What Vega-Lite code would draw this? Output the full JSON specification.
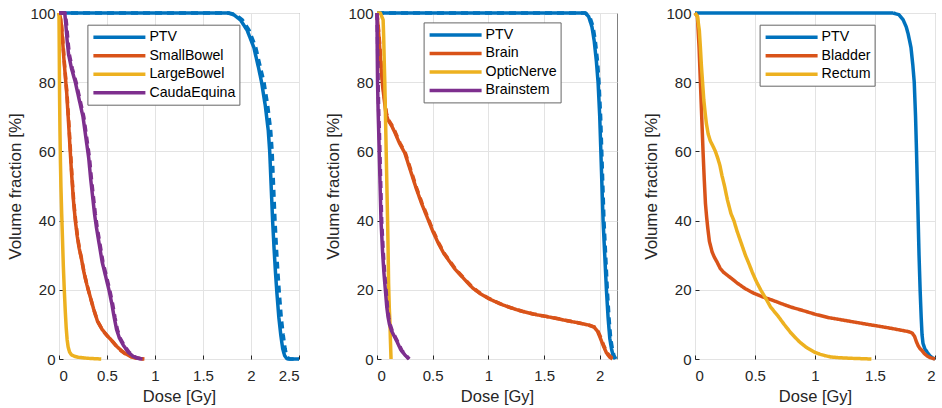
{
"$schema":"https://vega.github.io/schema/vega-lite/v6.json",
"background":"white",
"padding":{"left":6,"top":5,"right":0,"bottom":0},
"spacing":78,
"bounds":"flush",
"data":{"values":[
{"p":"A","s":"PTV","m":"a","d":0,"v":100},{"p":"A","s":"PTV","m":"a","d":1.76,"v":100},{"p":"A","s":"PTV","m":"a","d":1.82,"v":99.5},{"p":"A","s":"PTV","m":"a","d":1.89,"v":98},{"p":"A","s":"PTV","m":"a","d":1.96,"v":95},{"p":"A","s":"PTV","m":"a","d":2.03,"v":90},{"p":"A","s":"PTV","m":"a","d":2.08,"v":84},{"p":"A","s":"PTV","m":"a","d":2.11,"v":80},{"p":"A","s":"PTV","m":"a","d":2.15,"v":73},{"p":"A","s":"PTV","m":"a","d":2.18,"v":66},{"p":"A","s":"PTV","m":"a","d":2.195,"v":60},{"p":"A","s":"PTV","m":"a","d":2.21,"v":50},{"p":"A","s":"PTV","m":"a","d":2.225,"v":40},{"p":"A","s":"PTV","m":"a","d":2.24,"v":32},{"p":"A","s":"PTV","m":"a","d":2.255,"v":25},{"p":"A","s":"PTV","m":"a","d":2.27,"v":19},{"p":"A","s":"PTV","m":"a","d":2.29,"v":12},{"p":"A","s":"PTV","m":"a","d":2.31,"v":7},{"p":"A","s":"PTV","m":"a","d":2.33,"v":3},{"p":"A","s":"PTV","m":"a","d":2.35,"v":1},{"p":"A","s":"PTV","m":"a","d":2.37,"v":0.2},{"p":"A","s":"PTV","m":"a","d":2.385,"v":0},{"p":"A","s":"PTV","m":"a","d":2.5,"v":0},
{"p":"A","s":"PTV","m":"b","d":0,"v":100},{"p":"A","s":"PTV","m":"b","d":1.77,"v":100},{"p":"A","s":"PTV","m":"b","d":1.84,"v":99.5},{"p":"A","s":"PTV","m":"b","d":1.91,"v":98},{"p":"A","s":"PTV","m":"b","d":1.98,"v":95},{"p":"A","s":"PTV","m":"b","d":2.05,"v":90},{"p":"A","s":"PTV","m":"b","d":2.1,"v":84},{"p":"A","s":"PTV","m":"b","d":2.135,"v":80},{"p":"A","s":"PTV","m":"b","d":2.175,"v":73},{"p":"A","s":"PTV","m":"b","d":2.205,"v":66},{"p":"A","s":"PTV","m":"b","d":2.22,"v":60},{"p":"A","s":"PTV","m":"b","d":2.235,"v":50},{"p":"A","s":"PTV","m":"b","d":2.25,"v":40},{"p":"A","s":"PTV","m":"b","d":2.265,"v":32},{"p":"A","s":"PTV","m":"b","d":2.28,"v":25},{"p":"A","s":"PTV","m":"b","d":2.295,"v":19},{"p":"A","s":"PTV","m":"b","d":2.315,"v":12},{"p":"A","s":"PTV","m":"b","d":2.335,"v":7},{"p":"A","s":"PTV","m":"b","d":2.355,"v":3},{"p":"A","s":"PTV","m":"b","d":2.37,"v":1},{"p":"A","s":"PTV","m":"b","d":2.39,"v":0.2},{"p":"A","s":"PTV","m":"b","d":2.41,"v":0},{"p":"A","s":"PTV","m":"b","d":2.5,"v":0},
{"p":"A","s":"SmallBowel","m":"a","d":0,"v":100},{"p":"A","s":"SmallBowel","m":"a","d":0.02,"v":98},{"p":"A","s":"SmallBowel","m":"a","d":0.035,"v":93},{"p":"A","s":"SmallBowel","m":"a","d":0.05,"v":87},{"p":"A","s":"SmallBowel","m":"a","d":0.065,"v":82},{"p":"A","s":"SmallBowel","m":"a","d":0.08,"v":77},{"p":"A","s":"SmallBowel","m":"a","d":0.1,"v":68},{"p":"A","s":"SmallBowel","m":"a","d":0.115,"v":61},{"p":"A","s":"SmallBowel","m":"a","d":0.13,"v":54},{"p":"A","s":"SmallBowel","m":"a","d":0.15,"v":46},{"p":"A","s":"SmallBowel","m":"a","d":0.17,"v":40},{"p":"A","s":"SmallBowel","m":"a","d":0.19,"v":35.5},{"p":"A","s":"SmallBowel","m":"a","d":0.21,"v":32},{"p":"A","s":"SmallBowel","m":"a","d":0.23,"v":29.5},{"p":"A","s":"SmallBowel","m":"a","d":0.26,"v":25},{"p":"A","s":"SmallBowel","m":"a","d":0.29,"v":21.5},{"p":"A","s":"SmallBowel","m":"a","d":0.32,"v":18.5},{"p":"A","s":"SmallBowel","m":"a","d":0.36,"v":14.5},{"p":"A","s":"SmallBowel","m":"a","d":0.4,"v":11},{"p":"A","s":"SmallBowel","m":"a","d":0.45,"v":8.5},{"p":"A","s":"SmallBowel","m":"a","d":0.5,"v":6.8},{"p":"A","s":"SmallBowel","m":"a","d":0.56,"v":5},{"p":"A","s":"SmallBowel","m":"a","d":0.6,"v":3.7},{"p":"A","s":"SmallBowel","m":"a","d":0.65,"v":2.4},{"p":"A","s":"SmallBowel","m":"a","d":0.7,"v":1.4},{"p":"A","s":"SmallBowel","m":"a","d":0.75,"v":0.7},{"p":"A","s":"SmallBowel","m":"a","d":0.8,"v":0.3},{"p":"A","s":"SmallBowel","m":"a","d":0.88,"v":0},
{"p":"A","s":"SmallBowel","m":"b","d":0,"v":100},{"p":"A","s":"SmallBowel","m":"b","d":0.025,"v":97},{"p":"A","s":"SmallBowel","m":"b","d":0.04,"v":92},{"p":"A","s":"SmallBowel","m":"b","d":0.055,"v":86},{"p":"A","s":"SmallBowel","m":"b","d":0.07,"v":81},{"p":"A","s":"SmallBowel","m":"b","d":0.085,"v":76},{"p":"A","s":"SmallBowel","m":"b","d":0.105,"v":67},{"p":"A","s":"SmallBowel","m":"b","d":0.12,"v":60},{"p":"A","s":"SmallBowel","m":"b","d":0.135,"v":53},{"p":"A","s":"SmallBowel","m":"b","d":0.155,"v":45},{"p":"A","s":"SmallBowel","m":"b","d":0.175,"v":39.5},{"p":"A","s":"SmallBowel","m":"b","d":0.195,"v":35},{"p":"A","s":"SmallBowel","m":"b","d":0.215,"v":31.5},{"p":"A","s":"SmallBowel","m":"b","d":0.235,"v":29},{"p":"A","s":"SmallBowel","m":"b","d":0.265,"v":24.5},{"p":"A","s":"SmallBowel","m":"b","d":0.295,"v":21},{"p":"A","s":"SmallBowel","m":"b","d":0.325,"v":18},{"p":"A","s":"SmallBowel","m":"b","d":0.365,"v":14},{"p":"A","s":"SmallBowel","m":"b","d":0.405,"v":10.7},{"p":"A","s":"SmallBowel","m":"b","d":0.455,"v":8.3},{"p":"A","s":"SmallBowel","m":"b","d":0.505,"v":6.6},{"p":"A","s":"SmallBowel","m":"b","d":0.565,"v":4.8},{"p":"A","s":"SmallBowel","m":"b","d":0.605,"v":3.5},{"p":"A","s":"SmallBowel","m":"b","d":0.655,"v":2.2},{"p":"A","s":"SmallBowel","m":"b","d":0.705,"v":1.2},{"p":"A","s":"SmallBowel","m":"b","d":0.755,"v":0.6},{"p":"A","s":"SmallBowel","m":"b","d":0.81,"v":0.2},{"p":"A","s":"SmallBowel","m":"b","d":0.89,"v":0},
{"p":"A","s":"LargeBowel","m":"a","d":0,"v":100},{"p":"A","s":"LargeBowel","m":"a","d":0.003,"v":88},{"p":"A","s":"LargeBowel","m":"a","d":0.006,"v":76},{"p":"A","s":"LargeBowel","m":"a","d":0.01,"v":66},{"p":"A","s":"LargeBowel","m":"a","d":0.015,"v":57},{"p":"A","s":"LargeBowel","m":"a","d":0.02,"v":50},{"p":"A","s":"LargeBowel","m":"a","d":0.028,"v":42},{"p":"A","s":"LargeBowel","m":"a","d":0.036,"v":35},{"p":"A","s":"LargeBowel","m":"a","d":0.045,"v":27},{"p":"A","s":"LargeBowel","m":"a","d":0.055,"v":20},{"p":"A","s":"LargeBowel","m":"a","d":0.065,"v":14},{"p":"A","s":"LargeBowel","m":"a","d":0.075,"v":9},{"p":"A","s":"LargeBowel","m":"a","d":0.085,"v":5.5},{"p":"A","s":"LargeBowel","m":"a","d":0.095,"v":3.5},{"p":"A","s":"LargeBowel","m":"a","d":0.11,"v":2},{"p":"A","s":"LargeBowel","m":"a","d":0.13,"v":1.2},{"p":"A","s":"LargeBowel","m":"a","d":0.16,"v":0.8},{"p":"A","s":"LargeBowel","m":"a","d":0.2,"v":0.5},{"p":"A","s":"LargeBowel","m":"a","d":0.3,"v":0.2},{"p":"A","s":"LargeBowel","m":"a","d":0.44,"v":0},
{"p":"A","s":"CaudaEquina","m":"a","d":0,"v":100},{"p":"A","s":"CaudaEquina","m":"a","d":0.06,"v":100},{"p":"A","s":"CaudaEquina","m":"a","d":0.07,"v":97},{"p":"A","s":"CaudaEquina","m":"a","d":0.085,"v":92},{"p":"A","s":"CaudaEquina","m":"a","d":0.1,"v":88},{"p":"A","s":"CaudaEquina","m":"a","d":0.13,"v":84},{"p":"A","s":"CaudaEquina","m":"a","d":0.17,"v":80},{"p":"A","s":"CaudaEquina","m":"a","d":0.21,"v":75},{"p":"A","s":"CaudaEquina","m":"a","d":0.25,"v":70},{"p":"A","s":"CaudaEquina","m":"a","d":0.28,"v":64},{"p":"A","s":"CaudaEquina","m":"a","d":0.31,"v":58},{"p":"A","s":"CaudaEquina","m":"a","d":0.33,"v":52},{"p":"A","s":"CaudaEquina","m":"a","d":0.35,"v":47},{"p":"A","s":"CaudaEquina","m":"a","d":0.37,"v":42},{"p":"A","s":"CaudaEquina","m":"a","d":0.39,"v":38},{"p":"A","s":"CaudaEquina","m":"a","d":0.42,"v":33},{"p":"A","s":"CaudaEquina","m":"a","d":0.45,"v":28},{"p":"A","s":"CaudaEquina","m":"a","d":0.485,"v":24},{"p":"A","s":"CaudaEquina","m":"a","d":0.52,"v":20},{"p":"A","s":"CaudaEquina","m":"a","d":0.55,"v":16},{"p":"A","s":"CaudaEquina","m":"a","d":0.575,"v":12},{"p":"A","s":"CaudaEquina","m":"a","d":0.6,"v":8.5},{"p":"A","s":"CaudaEquina","m":"a","d":0.63,"v":6},{"p":"A","s":"CaudaEquina","m":"a","d":0.67,"v":4},{"p":"A","s":"CaudaEquina","m":"a","d":0.72,"v":2},{"p":"A","s":"CaudaEquina","m":"a","d":0.77,"v":0.8},{"p":"A","s":"CaudaEquina","m":"a","d":0.82,"v":0.2},{"p":"A","s":"CaudaEquina","m":"a","d":0.87,"v":0},
{"p":"A","s":"CaudaEquina","m":"b","d":0,"v":100},{"p":"A","s":"CaudaEquina","m":"b","d":0.065,"v":100},{"p":"A","s":"CaudaEquina","m":"b","d":0.078,"v":97},{"p":"A","s":"CaudaEquina","m":"b","d":0.093,"v":92},{"p":"A","s":"CaudaEquina","m":"b","d":0.108,"v":88},{"p":"A","s":"CaudaEquina","m":"b","d":0.138,"v":84},{"p":"A","s":"CaudaEquina","m":"b","d":0.178,"v":80},{"p":"A","s":"CaudaEquina","m":"b","d":0.218,"v":75},{"p":"A","s":"CaudaEquina","m":"b","d":0.258,"v":70},{"p":"A","s":"CaudaEquina","m":"b","d":0.288,"v":64},{"p":"A","s":"CaudaEquina","m":"b","d":0.318,"v":58},{"p":"A","s":"CaudaEquina","m":"b","d":0.338,"v":52},{"p":"A","s":"CaudaEquina","m":"b","d":0.358,"v":47},{"p":"A","s":"CaudaEquina","m":"b","d":0.378,"v":42},{"p":"A","s":"CaudaEquina","m":"b","d":0.398,"v":38},{"p":"A","s":"CaudaEquina","m":"b","d":0.428,"v":33},{"p":"A","s":"CaudaEquina","m":"b","d":0.458,"v":28},{"p":"A","s":"CaudaEquina","m":"b","d":0.493,"v":24},{"p":"A","s":"CaudaEquina","m":"b","d":0.528,"v":20},{"p":"A","s":"CaudaEquina","m":"b","d":0.558,"v":16},{"p":"A","s":"CaudaEquina","m":"b","d":0.583,"v":12},{"p":"A","s":"CaudaEquina","m":"b","d":0.608,"v":8.5},{"p":"A","s":"CaudaEquina","m":"b","d":0.638,"v":6},{"p":"A","s":"CaudaEquina","m":"b","d":0.678,"v":4},{"p":"A","s":"CaudaEquina","m":"b","d":0.728,"v":2},{"p":"A","s":"CaudaEquina","m":"b","d":0.778,"v":0.8},{"p":"A","s":"CaudaEquina","m":"b","d":0.828,"v":0.2},{"p":"A","s":"CaudaEquina","m":"b","d":0.875,"v":0},
{"p":"B","s":"PTV","m":"a","d":0,"v":100},{"p":"B","s":"PTV","m":"a","d":1.87,"v":100},{"p":"B","s":"PTV","m":"a","d":1.9,"v":99},{"p":"B","s":"PTV","m":"a","d":1.93,"v":96},{"p":"B","s":"PTV","m":"a","d":1.95,"v":92},{"p":"B","s":"PTV","m":"a","d":1.97,"v":86},{"p":"B","s":"PTV","m":"a","d":1.985,"v":80},{"p":"B","s":"PTV","m":"a","d":2.0,"v":70},{"p":"B","s":"PTV","m":"a","d":2.01,"v":60},{"p":"B","s":"PTV","m":"a","d":2.02,"v":50},{"p":"B","s":"PTV","m":"a","d":2.03,"v":40},{"p":"B","s":"PTV","m":"a","d":2.045,"v":30},{"p":"B","s":"PTV","m":"a","d":2.06,"v":20},{"p":"B","s":"PTV","m":"a","d":2.075,"v":12},{"p":"B","s":"PTV","m":"a","d":2.09,"v":6},{"p":"B","s":"PTV","m":"a","d":2.105,"v":3},{"p":"B","s":"PTV","m":"a","d":2.12,"v":1},{"p":"B","s":"PTV","m":"a","d":2.135,"v":0},
{"p":"B","s":"PTV","m":"b","d":0,"v":100},{"p":"B","s":"PTV","m":"b","d":1.87,"v":100},{"p":"B","s":"PTV","m":"b","d":1.91,"v":99},{"p":"B","s":"PTV","m":"b","d":1.94,"v":96},{"p":"B","s":"PTV","m":"b","d":1.96,"v":92},{"p":"B","s":"PTV","m":"b","d":1.98,"v":86},{"p":"B","s":"PTV","m":"b","d":1.993,"v":80},{"p":"B","s":"PTV","m":"b","d":2.008,"v":70},{"p":"B","s":"PTV","m":"b","d":2.018,"v":60},{"p":"B","s":"PTV","m":"b","d":2.028,"v":50},{"p":"B","s":"PTV","m":"b","d":2.038,"v":40},{"p":"B","s":"PTV","m":"b","d":2.053,"v":30},{"p":"B","s":"PTV","m":"b","d":2.068,"v":20},{"p":"B","s":"PTV","m":"b","d":2.083,"v":12},{"p":"B","s":"PTV","m":"b","d":2.098,"v":6},{"p":"B","s":"PTV","m":"b","d":2.113,"v":3},{"p":"B","s":"PTV","m":"b","d":2.128,"v":1},{"p":"B","s":"PTV","m":"b","d":2.145,"v":0},
{"p":"B","s":"Brain","m":"a","d":0,"v":100},{"p":"B","s":"Brain","m":"a","d":0.01,"v":96},{"p":"B","s":"Brain","m":"a","d":0.02,"v":92},{"p":"B","s":"Brain","m":"a","d":0.03,"v":87},{"p":"B","s":"Brain","m":"a","d":0.04,"v":83},{"p":"B","s":"Brain","m":"a","d":0.05,"v":79},{"p":"B","s":"Brain","m":"a","d":0.065,"v":75},{"p":"B","s":"Brain","m":"a","d":0.08,"v":71},{"p":"B","s":"Brain","m":"a","d":0.1,"v":69},{"p":"B","s":"Brain","m":"a","d":0.13,"v":67.5},{"p":"B","s":"Brain","m":"a","d":0.16,"v":65.5},{"p":"B","s":"Brain","m":"a","d":0.2,"v":62.5},{"p":"B","s":"Brain","m":"a","d":0.25,"v":59.5},{"p":"B","s":"Brain","m":"a","d":0.3,"v":54.5},{"p":"B","s":"Brain","m":"a","d":0.35,"v":49.5},{"p":"B","s":"Brain","m":"a","d":0.4,"v":45},{"p":"B","s":"Brain","m":"a","d":0.45,"v":41},{"p":"B","s":"Brain","m":"a","d":0.5,"v":37},{"p":"B","s":"Brain","m":"a","d":0.55,"v":33.5},{"p":"B","s":"Brain","m":"a","d":0.6,"v":30.5},{"p":"B","s":"Brain","m":"a","d":0.7,"v":26},{"p":"B","s":"Brain","m":"a","d":0.8,"v":22.5},{"p":"B","s":"Brain","m":"a","d":0.86,"v":20.5},{"p":"B","s":"Brain","m":"a","d":0.93,"v":18.8},{"p":"B","s":"Brain","m":"a","d":1.0,"v":17.5},{"p":"B","s":"Brain","m":"a","d":1.1,"v":16},{"p":"B","s":"Brain","m":"a","d":1.2,"v":14.8},{"p":"B","s":"Brain","m":"a","d":1.3,"v":13.8},{"p":"B","s":"Brain","m":"a","d":1.4,"v":13},{"p":"B","s":"Brain","m":"a","d":1.5,"v":12.4},{"p":"B","s":"Brain","m":"a","d":1.6,"v":11.8},{"p":"B","s":"Brain","m":"a","d":1.7,"v":11.1},{"p":"B","s":"Brain","m":"a","d":1.8,"v":10.5},{"p":"B","s":"Brain","m":"a","d":1.9,"v":9.8},{"p":"B","s":"Brain","m":"a","d":1.95,"v":9.2},{"p":"B","s":"Brain","m":"a","d":1.98,"v":8},{"p":"B","s":"Brain","m":"a","d":2.0,"v":6.5},{"p":"B","s":"Brain","m":"a","d":2.03,"v":4},{"p":"B","s":"Brain","m":"a","d":2.06,"v":1.8},{"p":"B","s":"Brain","m":"a","d":2.09,"v":0.5},{"p":"B","s":"Brain","m":"a","d":2.115,"v":0},
{"p":"B","s":"Brain","m":"b","d":0,"v":100},{"p":"B","s":"Brain","m":"b","d":0.012,"v":96},{"p":"B","s":"Brain","m":"b","d":0.022,"v":92},{"p":"B","s":"Brain","m":"b","d":0.033,"v":87},{"p":"B","s":"Brain","m":"b","d":0.043,"v":83},{"p":"B","s":"Brain","m":"b","d":0.054,"v":79},{"p":"B","s":"Brain","m":"b","d":0.069,"v":75},{"p":"B","s":"Brain","m":"b","d":0.085,"v":71},{"p":"B","s":"Brain","m":"b","d":0.105,"v":69},{"p":"B","s":"Brain","m":"b","d":0.135,"v":67.5},{"p":"B","s":"Brain","m":"b","d":0.165,"v":65.5},{"p":"B","s":"Brain","m":"b","d":0.205,"v":62.5},{"p":"B","s":"Brain","m":"b","d":0.255,"v":59.5},{"p":"B","s":"Brain","m":"b","d":0.305,"v":54.5},{"p":"B","s":"Brain","m":"b","d":0.355,"v":49.5},{"p":"B","s":"Brain","m":"b","d":0.405,"v":45},{"p":"B","s":"Brain","m":"b","d":0.455,"v":41},{"p":"B","s":"Brain","m":"b","d":0.505,"v":37},{"p":"B","s":"Brain","m":"b","d":0.555,"v":33.5},{"p":"B","s":"Brain","m":"b","d":0.605,"v":30.5},{"p":"B","s":"Brain","m":"b","d":0.705,"v":26},{"p":"B","s":"Brain","m":"b","d":0.805,"v":22.5},{"p":"B","s":"Brain","m":"b","d":0.865,"v":20.5},{"p":"B","s":"Brain","m":"b","d":0.935,"v":18.8},{"p":"B","s":"Brain","m":"b","d":1.005,"v":17.5},{"p":"B","s":"Brain","m":"b","d":1.105,"v":16},{"p":"B","s":"Brain","m":"b","d":1.205,"v":14.8},{"p":"B","s":"Brain","m":"b","d":1.305,"v":13.8},{"p":"B","s":"Brain","m":"b","d":1.405,"v":13},{"p":"B","s":"Brain","m":"b","d":1.505,"v":12.4},{"p":"B","s":"Brain","m":"b","d":1.605,"v":11.8},{"p":"B","s":"Brain","m":"b","d":1.705,"v":11.1},{"p":"B","s":"Brain","m":"b","d":1.805,"v":10.5},{"p":"B","s":"Brain","m":"b","d":1.905,"v":9.8},{"p":"B","s":"Brain","m":"b","d":1.955,"v":9.2},{"p":"B","s":"Brain","m":"b","d":1.985,"v":8},{"p":"B","s":"Brain","m":"b","d":2.005,"v":6.5},{"p":"B","s":"Brain","m":"b","d":2.035,"v":4},{"p":"B","s":"Brain","m":"b","d":2.065,"v":1.8},{"p":"B","s":"Brain","m":"b","d":2.1,"v":0.5},{"p":"B","s":"Brain","m":"b","d":2.15,"v":0},
{"p":"B","s":"OpticNerve","m":"a","d":0,"v":100},{"p":"B","s":"OpticNerve","m":"a","d":0.03,"v":100},{"p":"B","s":"OpticNerve","m":"a","d":0.055,"v":98},{"p":"B","s":"OpticNerve","m":"a","d":0.06,"v":93},{"p":"B","s":"OpticNerve","m":"a","d":0.065,"v":86},{"p":"B","s":"OpticNerve","m":"a","d":0.07,"v":80},{"p":"B","s":"OpticNerve","m":"a","d":0.075,"v":72},{"p":"B","s":"OpticNerve","m":"a","d":0.08,"v":64},{"p":"B","s":"OpticNerve","m":"a","d":0.085,"v":56},{"p":"B","s":"OpticNerve","m":"a","d":0.09,"v":48},{"p":"B","s":"OpticNerve","m":"a","d":0.095,"v":40},{"p":"B","s":"OpticNerve","m":"a","d":0.1,"v":31},{"p":"B","s":"OpticNerve","m":"a","d":0.104,"v":22},{"p":"B","s":"OpticNerve","m":"a","d":0.11,"v":15},{"p":"B","s":"OpticNerve","m":"a","d":0.117,"v":10},{"p":"B","s":"OpticNerve","m":"a","d":0.12,"v":6},{"p":"B","s":"OpticNerve","m":"a","d":0.123,"v":3},{"p":"B","s":"OpticNerve","m":"a","d":0.126,"v":0},
{"p":"B","s":"Brainstem","m":"a","d":0,"v":100},{"p":"B","s":"Brainstem","m":"a","d":0.002,"v":90},{"p":"B","s":"Brainstem","m":"a","d":0.005,"v":80},{"p":"B","s":"Brainstem","m":"a","d":0.01,"v":72},{"p":"B","s":"Brainstem","m":"a","d":0.016,"v":65},{"p":"B","s":"Brainstem","m":"a","d":0.02,"v":60},{"p":"B","s":"Brainstem","m":"a","d":0.028,"v":50},{"p":"B","s":"Brainstem","m":"a","d":0.036,"v":40},{"p":"B","s":"Brainstem","m":"a","d":0.05,"v":31},{"p":"B","s":"Brainstem","m":"a","d":0.062,"v":25},{"p":"B","s":"Brainstem","m":"a","d":0.075,"v":20},{"p":"B","s":"Brainstem","m":"a","d":0.088,"v":15},{"p":"B","s":"Brainstem","m":"a","d":0.1,"v":12},{"p":"B","s":"Brainstem","m":"a","d":0.112,"v":10},{"p":"B","s":"Brainstem","m":"a","d":0.13,"v":8.2},{"p":"B","s":"Brainstem","m":"a","d":0.156,"v":6.5},{"p":"B","s":"Brainstem","m":"a","d":0.18,"v":5},{"p":"B","s":"Brainstem","m":"a","d":0.2,"v":3.6},{"p":"B","s":"Brainstem","m":"a","d":0.215,"v":2.6},{"p":"B","s":"Brainstem","m":"a","d":0.25,"v":1.2},{"p":"B","s":"Brainstem","m":"a","d":0.285,"v":0},
{"p":"B","s":"Brainstem","m":"b","d":0,"v":100},{"p":"B","s":"Brainstem","m":"b","d":0.006,"v":90},{"p":"B","s":"Brainstem","m":"b","d":0.01,"v":80},{"p":"B","s":"Brainstem","m":"b","d":0.015,"v":72},{"p":"B","s":"Brainstem","m":"b","d":0.022,"v":65},{"p":"B","s":"Brainstem","m":"b","d":0.026,"v":60},{"p":"B","s":"Brainstem","m":"b","d":0.034,"v":50},{"p":"B","s":"Brainstem","m":"b","d":0.042,"v":40},{"p":"B","s":"Brainstem","m":"b","d":0.056,"v":31},{"p":"B","s":"Brainstem","m":"b","d":0.068,"v":25},{"p":"B","s":"Brainstem","m":"b","d":0.081,"v":20},{"p":"B","s":"Brainstem","m":"b","d":0.094,"v":15},{"p":"B","s":"Brainstem","m":"b","d":0.106,"v":12},{"p":"B","s":"Brainstem","m":"b","d":0.118,"v":10},{"p":"B","s":"Brainstem","m":"b","d":0.136,"v":8.2},{"p":"B","s":"Brainstem","m":"b","d":0.162,"v":6.5},{"p":"B","s":"Brainstem","m":"b","d":0.186,"v":5},{"p":"B","s":"Brainstem","m":"b","d":0.206,"v":3.6},{"p":"B","s":"Brainstem","m":"b","d":0.221,"v":2.6},{"p":"B","s":"Brainstem","m":"b","d":0.256,"v":1.2},{"p":"B","s":"Brainstem","m":"b","d":0.29,"v":0},
{"p":"C","s":"PTV","m":"a","d":0,"v":100},{"p":"C","s":"PTV","m":"a","d":1.65,"v":100},{"p":"C","s":"PTV","m":"a","d":1.7,"v":99.5},{"p":"C","s":"PTV","m":"a","d":1.735,"v":98},{"p":"C","s":"PTV","m":"a","d":1.76,"v":96},{"p":"C","s":"PTV","m":"a","d":1.776,"v":94},{"p":"C","s":"PTV","m":"a","d":1.8,"v":90},{"p":"C","s":"PTV","m":"a","d":1.815,"v":85},{"p":"C","s":"PTV","m":"a","d":1.827,"v":80},{"p":"C","s":"PTV","m":"a","d":1.838,"v":70},{"p":"C","s":"PTV","m":"a","d":1.846,"v":60},{"p":"C","s":"PTV","m":"a","d":1.853,"v":50},{"p":"C","s":"PTV","m":"a","d":1.86,"v":40},{"p":"C","s":"PTV","m":"a","d":1.867,"v":30},{"p":"C","s":"PTV","m":"a","d":1.876,"v":20},{"p":"C","s":"PTV","m":"a","d":1.885,"v":12},{"p":"C","s":"PTV","m":"a","d":1.892,"v":7},{"p":"C","s":"PTV","m":"a","d":1.9,"v":4.5},{"p":"C","s":"PTV","m":"a","d":1.915,"v":3},{"p":"C","s":"PTV","m":"a","d":1.93,"v":2.2},{"p":"C","s":"PTV","m":"a","d":1.955,"v":1},{"p":"C","s":"PTV","m":"a","d":1.98,"v":0.3},{"p":"C","s":"PTV","m":"a","d":2.0,"v":0},
{"p":"C","s":"Bladder","m":"a","d":0,"v":100},{"p":"C","s":"Bladder","m":"a","d":0.02,"v":99},{"p":"C","s":"Bladder","m":"a","d":0.034,"v":90},{"p":"C","s":"Bladder","m":"a","d":0.045,"v":80},{"p":"C","s":"Bladder","m":"a","d":0.056,"v":70},{"p":"C","s":"Bladder","m":"a","d":0.067,"v":60},{"p":"C","s":"Bladder","m":"a","d":0.077,"v":52},{"p":"C","s":"Bladder","m":"a","d":0.087,"v":45},{"p":"C","s":"Bladder","m":"a","d":0.097,"v":41},{"p":"C","s":"Bladder","m":"a","d":0.106,"v":38},{"p":"C","s":"Bladder","m":"a","d":0.12,"v":34},{"p":"C","s":"Bladder","m":"a","d":0.142,"v":31},{"p":"C","s":"Bladder","m":"a","d":0.16,"v":29.5},{"p":"C","s":"Bladder","m":"a","d":0.184,"v":28},{"p":"C","s":"Bladder","m":"a","d":0.21,"v":26.2},{"p":"C","s":"Bladder","m":"a","d":0.24,"v":25},{"p":"C","s":"Bladder","m":"a","d":0.3,"v":23.4},{"p":"C","s":"Bladder","m":"a","d":0.35,"v":22},{"p":"C","s":"Bladder","m":"a","d":0.42,"v":20.3},{"p":"C","s":"Bladder","m":"a","d":0.49,"v":19},{"p":"C","s":"Bladder","m":"a","d":0.56,"v":18},{"p":"C","s":"Bladder","m":"a","d":0.645,"v":17},{"p":"C","s":"Bladder","m":"a","d":0.72,"v":16},{"p":"C","s":"Bladder","m":"a","d":0.8,"v":15},{"p":"C","s":"Bladder","m":"a","d":0.9,"v":14},{"p":"C","s":"Bladder","m":"a","d":0.994,"v":13},{"p":"C","s":"Bladder","m":"a","d":1.106,"v":12},{"p":"C","s":"Bladder","m":"a","d":1.274,"v":11},{"p":"C","s":"Bladder","m":"a","d":1.44,"v":10},{"p":"C","s":"Bladder","m":"a","d":1.58,"v":9.2},{"p":"C","s":"Bladder","m":"a","d":1.66,"v":8.7},{"p":"C","s":"Bladder","m":"a","d":1.72,"v":8.3},{"p":"C","s":"Bladder","m":"a","d":1.78,"v":7.9},{"p":"C","s":"Bladder","m":"a","d":1.81,"v":7.5},{"p":"C","s":"Bladder","m":"a","d":1.83,"v":6.5},{"p":"C","s":"Bladder","m":"a","d":1.845,"v":5},{"p":"C","s":"Bladder","m":"a","d":1.86,"v":3.8},{"p":"C","s":"Bladder","m":"a","d":1.875,"v":3},{"p":"C","s":"Bladder","m":"a","d":1.89,"v":2.5},{"p":"C","s":"Bladder","m":"a","d":1.91,"v":1.6},{"p":"C","s":"Bladder","m":"a","d":1.93,"v":1},{"p":"C","s":"Bladder","m":"a","d":1.96,"v":0.4},{"p":"C","s":"Bladder","m":"a","d":1.99,"v":0.1},{"p":"C","s":"Bladder","m":"a","d":2.0,"v":0},
{"p":"C","s":"Rectum","m":"a","d":0,"v":100},{"p":"C","s":"Rectum","m":"a","d":0.02,"v":99},{"p":"C","s":"Rectum","m":"a","d":0.036,"v":95},{"p":"C","s":"Rectum","m":"a","d":0.045,"v":90},{"p":"C","s":"Rectum","m":"a","d":0.053,"v":85},{"p":"C","s":"Rectum","m":"a","d":0.063,"v":80},{"p":"C","s":"Rectum","m":"a","d":0.073,"v":75},{"p":"C","s":"Rectum","m":"a","d":0.085,"v":71},{"p":"C","s":"Rectum","m":"a","d":0.095,"v":68},{"p":"C","s":"Rectum","m":"a","d":0.11,"v":65},{"p":"C","s":"Rectum","m":"a","d":0.128,"v":63},{"p":"C","s":"Rectum","m":"a","d":0.15,"v":61.5},{"p":"C","s":"Rectum","m":"a","d":0.17,"v":60},{"p":"C","s":"Rectum","m":"a","d":0.19,"v":58},{"p":"C","s":"Rectum","m":"a","d":0.207,"v":56},{"p":"C","s":"Rectum","m":"a","d":0.225,"v":53},{"p":"C","s":"Rectum","m":"a","d":0.246,"v":50},{"p":"C","s":"Rectum","m":"a","d":0.27,"v":46},{"p":"C","s":"Rectum","m":"a","d":0.3,"v":42},{"p":"C","s":"Rectum","m":"a","d":0.324,"v":40},{"p":"C","s":"Rectum","m":"a","d":0.35,"v":37},{"p":"C","s":"Rectum","m":"a","d":0.38,"v":34},{"p":"C","s":"Rectum","m":"a","d":0.42,"v":30},{"p":"C","s":"Rectum","m":"a","d":0.45,"v":27.5},{"p":"C","s":"Rectum","m":"a","d":0.478,"v":25},{"p":"C","s":"Rectum","m":"a","d":0.51,"v":22.5},{"p":"C","s":"Rectum","m":"a","d":0.547,"v":20},{"p":"C","s":"Rectum","m":"a","d":0.59,"v":17.5},{"p":"C","s":"Rectum","m":"a","d":0.63,"v":15},{"p":"C","s":"Rectum","m":"a","d":0.69,"v":12.5},{"p":"C","s":"Rectum","m":"a","d":0.743,"v":10},{"p":"C","s":"Rectum","m":"a","d":0.8,"v":7.5},{"p":"C","s":"Rectum","m":"a","d":0.869,"v":5},{"p":"C","s":"Rectum","m":"a","d":0.93,"v":3.3},{"p":"C","s":"Rectum","m":"a","d":0.994,"v":2},{"p":"C","s":"Rectum","m":"a","d":1.04,"v":1.4},{"p":"C","s":"Rectum","m":"a","d":1.08,"v":1},{"p":"C","s":"Rectum","m":"a","d":1.13,"v":0.6},{"p":"C","s":"Rectum","m":"a","d":1.19,"v":0.4},{"p":"C","s":"Rectum","m":"a","d":1.3,"v":0.2},{"p":"C","s":"Rectum","m":"a","d":1.47,"v":0}
]},
"hconcat":[
{"width":240,"height":346,
 "transform":[{"filter":"datum.p=='A'"}],
 "mark":{"type":"line","strokeWidth":3.5,"strokeJoin":"round"},
 "encoding":{
  "x":{"field":"d","type":"quantitative","scale":{"domain":[0,2.5],"nice":false},"axis":{"values":[0,0.5,1,1.5,2,2.5],"format":"~g","title":"Dose [Gy]"}},
  "y":{"field":"v","type":"quantitative","scale":{"domain":[0,100],"nice":false},"axis":{"values":[0,20,40,60,80,100],"title":"Volume fraction [%]"}},
  "color":{"field":"s","type":"nominal","scale":{"domain":["PTV","SmallBowel","LargeBowel","CaudaEquina"],"range":["#0072BD","#D95319","#EDB120","#7E2F8E"]},"legend":{"orient":"none","legendX":28.4,"legendY":11.7,"title":null}},
  "strokeDash":{"field":"m","type":"nominal","scale":{"domain":["a","b"],"range":[[1,0],[7,5]]},"legend":null},
  "order":[{"field":"d","type":"quantitative","sort":"ascending"},{"field":"v","type":"quantitative","sort":"descending"}]
 }},
{"width":240,"height":346,
 "transform":[{"filter":"datum.p=='B'"}],
 "mark":{"type":"line","strokeWidth":3.5,"strokeJoin":"round"},
 "encoding":{
  "x":{"field":"d","type":"quantitative","scale":{"domain":[0,2.155],"nice":false},"axis":{"values":[0,0.5,1,1.5,2],"format":"~g","title":"Dose [Gy]"}},
  "y":{"field":"v","type":"quantitative","scale":{"domain":[0,100],"nice":false},"axis":{"values":[0,20,40,60,80,100],"title":"Volume fraction [%]"}},
  "color":{"field":"s","type":"nominal","scale":{"domain":["PTV","Brain","OpticNerve","Brainstem"],"range":["#0072BD","#D95319","#EDB120","#7E2F8E"]},"legend":{"orient":"none","legendX":46.6,"legendY":9.4,"title":null}},
  "strokeDash":{"field":"m","type":"nominal","scale":{"domain":["a","b"],"range":[[1,0],[7,5]]},"legend":null},
  "order":[{"field":"d","type":"quantitative","sort":"ascending"},{"field":"v","type":"quantitative","sort":"descending"}]
 }},
{"width":240,"height":346,
 "transform":[{"filter":"datum.p=='C'"}],
 "mark":{"type":"line","strokeWidth":3.5,"strokeJoin":"round"},
 "encoding":{
  "x":{"field":"d","type":"quantitative","scale":{"domain":[0,2],"nice":false},"axis":{"values":[0,0.5,1,1.5,2],"format":"~g","title":"Dose [Gy]"}},
  "y":{"field":"v","type":"quantitative","scale":{"domain":[0,100],"nice":false},"axis":{"values":[0,20,40,60,80,100],"title":"Volume fraction [%]"}},
  "color":{"field":"s","type":"nominal","scale":{"domain":["PTV","Bladder","Rectum"],"range":["#0072BD","#D95319","#EDB120"]},"legend":{"orient":"none","legendX":64.6,"legendY":11.7,"title":null}},
  "strokeDash":{"field":"m","type":"nominal","scale":{"domain":["a","b"],"range":[[1,0],[7,5]]},"legend":null},
  "order":[{"field":"d","type":"quantitative","sort":"ascending"},{"field":"v","type":"quantitative","sort":"descending"}]
 }}
],
"resolve":{"scale":{"x":"independent","y":"independent","color":"independent","strokeDash":"independent"},"legend":{"color":"independent"}},
"config":{
 "font":"Liberation Sans",
 "view":{"stroke":"#808080","strokeWidth":1},
 "axis":{"domain":false,"grid":true,"gridColor":"#e3e3e3","gridWidth":1,"tickColor":"#262626","tickSize":-4,"tickWidth":1,"labelColor":"#262626","labelFontSize":15,"titleColor":"#262626","titleFontWeight":"normal","titleFontSize":16.5},
 "axisX":{"labelPadding":13,"titlePadding":5},
 "axisY":{"labelPadding":8,"titlePadding":5,"titleFontSize":17},
 "legend":{"symbolType":"M-1,0H7","symbolSize":169,"symbolStrokeWidth":3.5,"labelFontSize":14.2,"labelColor":"#000000","labelOffset":41,"padding":4,"rowPadding":2.5,"strokeColor":"#666666","fillColor":"white","cornerRadius":0}
}
}
